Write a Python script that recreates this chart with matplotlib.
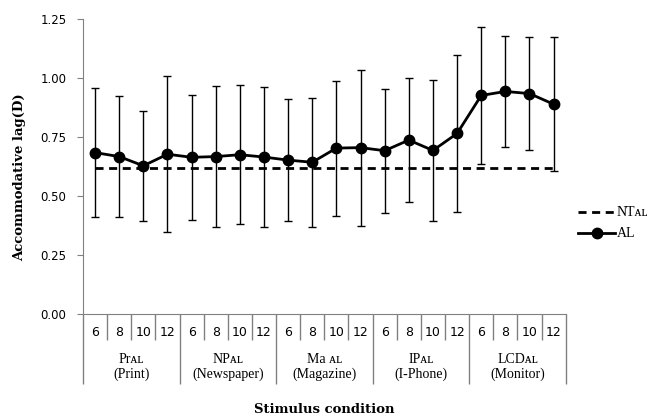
import matplotlib
matplotlib.use('Agg')
import matplotlib.pyplot as plt
from matplotlib.lines import Line2D

# stimulus distances repeated per stimulus type
distances = ['6', '8', '10', '12']
groups = ['Prᴀʟ\n(Print)', 'NPᴀʟ\n(Newspaper)', 'Ma ᴀʟ\n(Magazine)',
          'IPᴀʟ\n(I-Phone)', 'LCDᴀʟ\n(Monitor)']

al_mean = [0.684, 0.667, 0.628, 0.677, 0.664, 0.667, 0.675, 0.665, 0.652, 0.643,
           0.703, 0.705, 0.692, 0.737, 0.693, 0.765, 0.926, 0.943, 0.934, 0.889]
al_sd = [0.272, 0.255, 0.234, 0.330, 0.266, 0.298, 0.294, 0.296, 0.258, 0.274,
         0.286, 0.330, 0.263, 0.264, 0.300, 0.331, 0.290, 0.236, 0.240, 0.285]
nt_al = [0.62] * 20

yticks = [0.00, 0.25, 0.50, 0.75, 1.00, 1.25]

serif = ['Liberation Serif', 'DejaVu Serif']
grey = '#808080'
W, H = 661, 419
px = 72 / 100  # points per pixel
dash = (2.9, 2.0)

fig = plt.figure(figsize=(W / 100, H / 100), dpi=100)
ax = fig.add_axes([83 / W, 1 - 314 / H, (565.7 - 83) / W, (314 - 19) / H])

n = len(al_mean)
xs = [i + 0.5 for i in range(n)]

ax.plot(xs, nt_al, color='black', lw=2, dashes=dash)
ax.errorbar(xs, al_mean, yerr=al_sd, color='black', lw=2, marker='o', ms=7.5,
            ecolor='black', elinewidth=1, capsize=3, capthick=1)

ax.set_xlim(0, n)
ax.set_ylim(0, 1.25)
ax.set_yticks(yticks)
ax.set_yticklabels(['%.2f' % v for v in yticks], fontsize=8.5)
for s in ['top', 'right']:
    ax.spines[s].set_visible(False)
for s in ['left', 'bottom']:
    ax.spines[s].set_color(grey)
ax.tick_params(axis='y', direction='out', length=4, color=grey, pad=8)

# category axis drawn as separator ticks
ax.set_xticks(range(0, n + 1, 4))
ax.set_xticks([i for i in range(n + 1) if i % 4], minor=True)
ax.set_xticklabels([])
ax.tick_params(axis='x', which='major', direction='out', length=70 * px, color=grey, width=1)
ax.tick_params(axis='x', which='minor', direction='out', length=26 * px, color=grey, width=1)

trans = ax.get_xaxis_transform()
for i in range(n):
    ax.annotate(distances[i % 4], xy=(i + 0.5, 0), xycoords=trans,
                xytext=(0, -18), textcoords='offset pixels',
                ha='center', va='center', fontsize=9)
for g, label in enumerate(groups):
    ax.annotate(label, xy=(g * 4 + 2, 0), xycoords=trans,
                xytext=(0, -53), textcoords='offset pixels',
                ha='center', va='center', fontsize=10, family=serif,
                linespacing=1.2)

fig.text(20 / W, 1 - 177 / H, 'Accommodative lag(D)', rotation=90,
         ha='center', va='center', fontsize=9.5, fontweight='bold', family='DejaVu Serif')
fig.text(324 / W, 1 - 409 / H, 'Stimulus condition', ha='center', va='center',
         fontsize=9.5, fontweight='bold', family='DejaVu Serif')

# legend
fig.add_artist(Line2D([578 / W, 615 / W], [1 - 212 / H] * 2, color='black',
                      lw=2, dashes=dash))
fig.add_artist(Line2D([578 / W, 615 / W], [1 - 233 / H] * 2, color='black', lw=2))
fig.add_artist(Line2D([596.5 / W], [1 - 233 / H], color='black', marker='o', ms=7.5))
fig.text(617 / W, 1 - 212 / H, 'NTᴀʟ', ha='left', va='center', fontsize=10, family=serif)
fig.text(617 / W, 1 - 233 / H, 'AL', ha='left', va='center', fontsize=10, family=serif)

fig.savefig('out.png', dpi=100)
